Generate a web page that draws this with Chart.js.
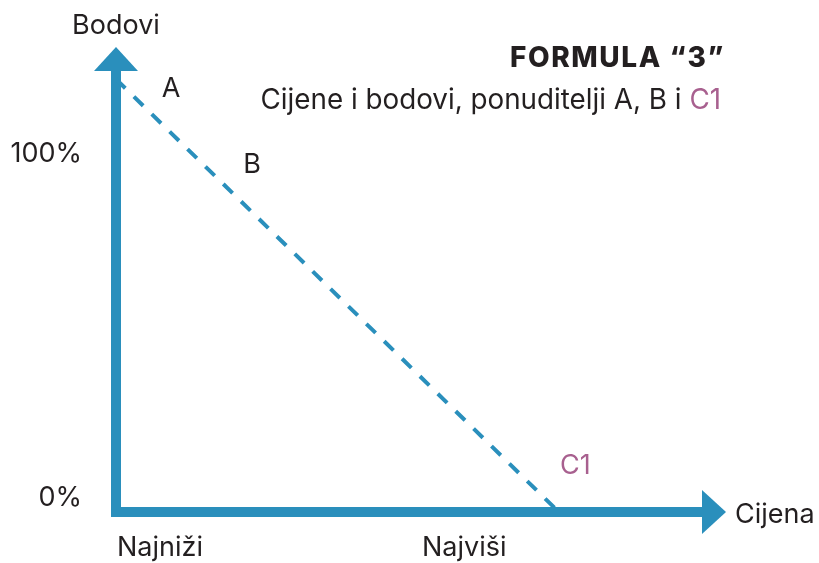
<!DOCTYPE html>
<html>
<head>
<meta charset="utf-8">
<script src="https://cdn.jsdelivr.net/npm/chart.js@4/dist/chart.umd.min.js"></script>
<style>
  html, body { margin: 0; padding: 0; background: #ffffff; }
  #wrap { position: relative; width: 819px; height: 563px; }
  canvas { display: block; }
</style>
</head>
<body>
<div id="wrap"><canvas id="c" width="819" height="563"></canvas></div>
<script>
// ---- data ----
const bidders = ["A", "B", "C1"];
const priceValues = [0, 15, 75.5];          // relative price (x)
const scoreValues = [121, 96.96, 0];        // points (y)
const bidderLabelX = [9.4, 23.2, 78.3];     // label anchors (data units)
const bidderLabelY = [118.4, 97, 12.9];
const xTickLabels = ["Najniži", "Najviši"];
const xTickValues = [0, 52];
const yTickLabels = ["0%", "100%"];
const yTickValues = [4, 100];
const xAxisTitle = "Cijena";
const yAxisTitle = "Bodovi";
const titleText = "FORMULA \u201C3\u201D";
const subtitleParts = ["Cijene i bodovi, ponuditelji A, B i ", "C1"];

const BLUE = "#2a8fbc";
const TEXT = "#231f20";
const PURPLE = "#a8608f";
const FONT = "Inter, 'Liberation Sans', Arial, sans-serif";

const points = priceValues.map((x, i) => ({ x: x, y: scoreValues[i] }));

const decor = {
  id: "decor",
  beforeDatasetsDraw(chart) {
    const { ctx, scales: { x, y } } = chart;
    const x0 = x.getPixelForValue(x.min);
    const y0 = y.getPixelForValue(y.min);
    const xEnd = x.getPixelForValue(x.max);
    const yTop = y.getPixelForValue(y.max);
    ctx.save();
    ctx.fillStyle = BLUE;
    const w = 10;
    // y axis shaft
    ctx.fillRect(x0 - w / 2, yTop + 22, w, y0 - yTop - 22 + w / 2);
    // x axis shaft
    ctx.fillRect(x0 - w / 2, y0 - w / 2, xEnd - 22 - x0 + w / 2, w);
    // arrows
    ctx.beginPath();
    ctx.moveTo(x0, yTop);
    ctx.lineTo(x0 + 22, yTop + 24);
    ctx.lineTo(x0 - 22, yTop + 24);
    ctx.closePath();
    ctx.fill();
    ctx.beginPath();
    ctx.moveTo(xEnd, y0);
    ctx.lineTo(xEnd - 24, y0 - 22);
    ctx.lineTo(xEnd - 24, y0 + 22);
    ctx.closePath();
    ctx.fill();
    ctx.restore();
  },
  afterDatasetsDraw(chart) {
    const { ctx, scales: { x, y } } = chart;
    const x0 = x.getPixelForValue(x.min);
    const y0 = y.getPixelForValue(y.min);
    const xEnd = x.getPixelForValue(x.max);
    const yTop = y.getPixelForValue(y.max);
    ctx.save();
    ctx.font = "27px " + FONT;
    ctx.textBaseline = "middle";
    ctx.fillStyle = TEXT;
    // axis titles
    ctx.textAlign = "center";
    ctx.fillText(yAxisTitle, x0, yTop - 21);
    ctx.textAlign = "left";
    ctx.fillText(xAxisTitle, xEnd + 9, y0 + 3);
    // y ticks
    ctx.textAlign = "right";
    yTickLabels.forEach((t, i) => ctx.fillText(t, x0 - 34, y.getPixelForValue(yTickValues[i])));
    // x ticks
    ctx.textAlign = "left";
    xTickLabels.forEach((t, i) => ctx.fillText(t, x.getPixelForValue(xTickValues[i]) + 1, y0 + 36));
    // bidder labels
    ctx.textAlign = "center";
    bidders.forEach((b, i) => {
      ctx.fillStyle = b === "C1" ? PURPLE : TEXT;
      ctx.fillText(b, x.getPixelForValue(bidderLabelX[i]), y.getPixelForValue(bidderLabelY[i]));
    });
    // title
    const right = 723;
    ctx.textAlign = "right";
    ctx.fillStyle = TEXT;
    ctx.font = "800 28px " + FONT;
    ctx.letterSpacing = "1.6px";
    ctx.fillText(titleText, right + 2, 59);
    ctx.letterSpacing = "0px";
    ctx.font = "27.8px " + FONT;
    const w2 = ctx.measureText(subtitleParts[1]).width;
    ctx.fillStyle = PURPLE;
    ctx.fillText(subtitleParts[1], right - 2, 101);
    ctx.fillStyle = TEXT;
    ctx.fillText(subtitleParts[0], right - 2 - w2, 101);
    ctx.restore();
  }
};

new Chart(document.getElementById("c"), {
  type: "scatter",
  data: {
    datasets: [{
      label: "Bodovi",
      data: points,
      showLine: true,
      borderColor: BLUE,
      borderWidth: 4,
      borderDash: [13, 12],
      pointRadius: 0,
      fill: false
    }]
  },
  options: {
    responsive: false,
    animation: false,
    layout: { padding: { left: 116, right: 93, top: 47, bottom: 51 } },
    plugins: { legend: { display: false }, tooltip: { enabled: false }, title: { display: false } },
    scales: {
      x: { type: "linear", min: 0, max: 104, display: false },
      y: { type: "linear", min: 0, max: 130, display: false }
    }
  },
  plugins: [decor]
});
</script>
</body>
</html>
